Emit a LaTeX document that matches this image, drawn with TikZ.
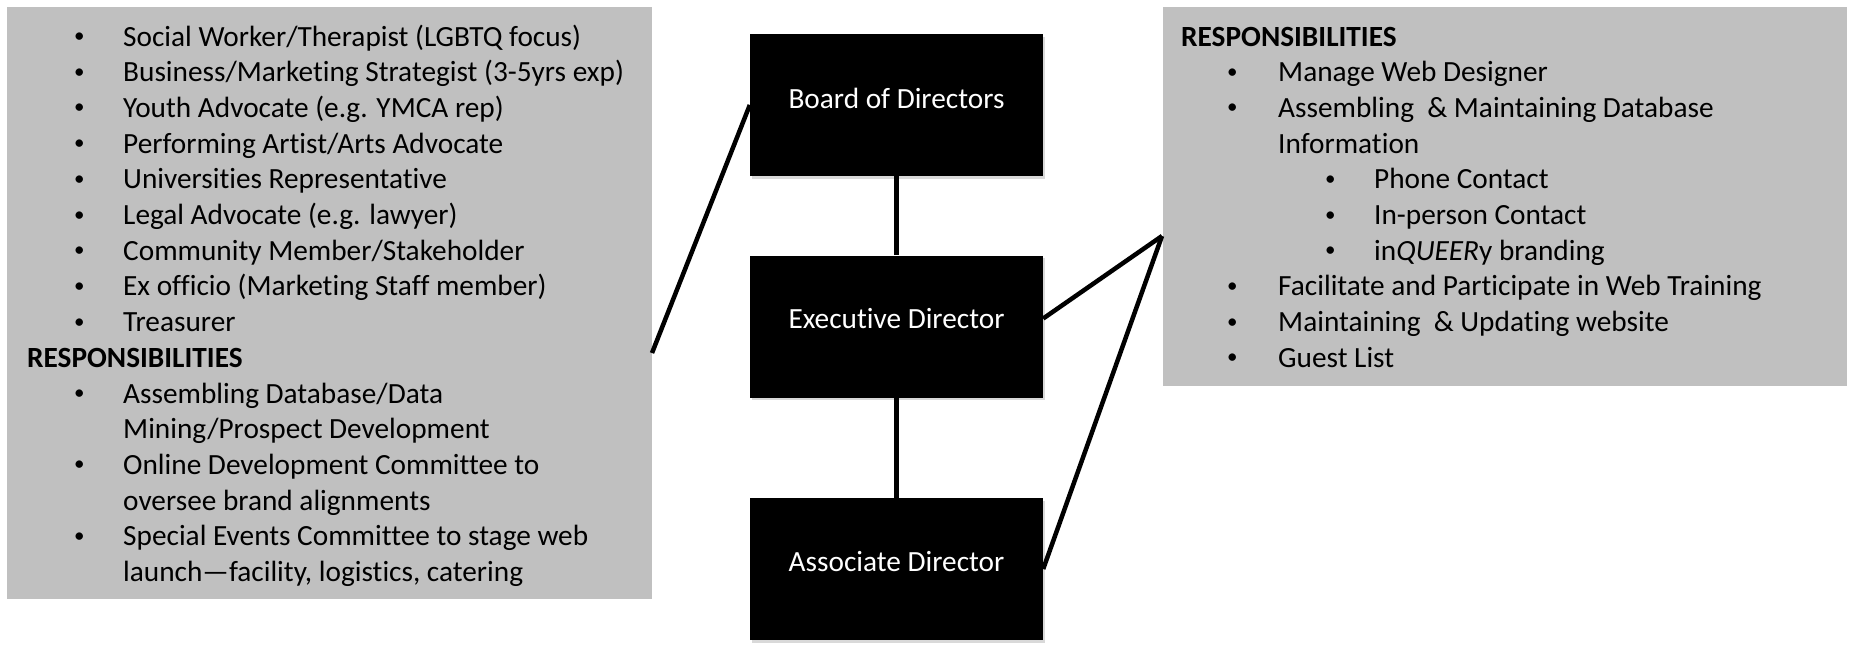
\documentclass[tikz,border=0pt]{standalone}
\usepackage{fontspec}
\setmainfont{Carlito}[Ligatures=NoCommon,RawFeature=-liga;-clig;-dlig]
\usetikzlibrary{calc,shadows}
\definecolor{panelgray}{RGB}{192,192,192}
\newcommand\smallbul{\raisebox{3.5pt}{\fontsize{21}{21}\selectfont\textbullet}}
\newcommand\lbul[1]{\hspace*{47pt}\makebox[49pt][l]{\smallbul}#1}
\newcommand\lcont[1]{\hspace*{96pt}#1}
\newcommand\rbul[1]{\hspace*{46pt}\makebox[51pt][l]{\smallbul}#1}
\newcommand\rcont[1]{\hspace*{97pt}#1}
\newcommand\rsub[1]{\hspace*{144pt}\makebox[49pt][l]{\smallbul}#1}
\begin{document}
\begin{tikzpicture}[x=1pt,y=-1pt,
  txt/.style={anchor=base west,inner sep=0pt,font=\fontsize{29.3}{35}\selectfont},
  panel/.style={fill=panelgray,draw=none,anchor=north west,inner sep=0pt},
  rolebox/.style={fill=black,text=white,minimum width=293pt,minimum height=142pt,
    inner sep=0pt,font=\fontsize{29.3}{35}\selectfont,
    drop shadow={opacity=0.3,shadow xshift=1.5pt,shadow yshift=-2.5pt}},
  link/.style={line width=4.5pt}]
\useasboundingbox (0,0) rectangle (1849,646);
% panels
\node[panel,minimum width=645pt,minimum height=592pt] (lbox) at (7,7) {};
\node[panel,minimum width=684pt,minimum height=379pt] (rbox) at (1163,7) {};
% left panel text
\foreach \t [count=\i from 0] in {
  {\lbul{Social Worker/Therapist (LGBTQ focus)}},
  {\lbul{Business/Marketing Strategist (3-5yrs exp)}},
  {\lbul{Youth Advocate (e.g. YMCA rep)}},
  {\lbul{Performing Artist/Arts Advocate}},
  {\lbul{Universities Representative}},
  {\lbul{Legal Advocate (e.g. lawyer)}},
  {\lbul{Community Member/Stakeholder}},
  {\lbul{Ex officio (Marketing Staff member)}},
  {\lbul{Treasurer}},
  {\textbf{RESPONSIBILITIES}},
  {\lbul{Assembling Database/Data}},
  {\lcont{Mining/Prospect Development}},
  {\lbul{Online Development Committee to}},
  {\lcont{oversee brand alignments}},
  {\lbul{Special Events Committee to stage web}},
  {\lcont{launch—facility, logistics, catering}}}
  \node[txt] (L\i) at (27,{46+35.7*\i}) {\t};
% right panel text
\foreach \t [count=\i from 0] in {
  {\textbf{RESPONSIBILITIES}},
  {\rbul{Manage Web Designer}},
  {\rbul{Assembling\ \ \& Maintaining Database}},
  {\rcont{Information}},
  {\rsub{Phone Contact}},
  {\rsub{In-person Contact}},
  {\rsub{in\textit{QUEER}y branding}},
  {\rbul{Facilitate and Participate in Web Training}},
  {\rbul{Maintaining\ \ \& Updating website}},
  {\rbul{Guest List}}}
  \node[txt] (R\i) at (1181,{46+35.7*\i}) {\t};
% role boxes
\node[rolebox] (board) at (896.5,105) {\raisebox{7pt}[\height][\depth]{Board of Directors}};
\node[rolebox] (exec) at (896.5,326.5) {\raisebox{8pt}[\height][\depth]{Executive Director}};
\node[rolebox] (assoc) at (896.5,569) {\raisebox{7pt}[\height][\depth]{Associate Director}};
% connectors
\coordinate (lend) at (652,353);
\coordinate (rapex) at (1162,236);
\draw[link] (lend) -- (board.west);
\draw[link] (board.south) -- (exec.north);
\draw[link] (exec.south) -- (assoc.north);
\draw[link] ($(exec.east)+(0,-8)$) -- (rapex);
\draw[link] (assoc.east) -- (rapex);
\end{tikzpicture}
\end{document}
